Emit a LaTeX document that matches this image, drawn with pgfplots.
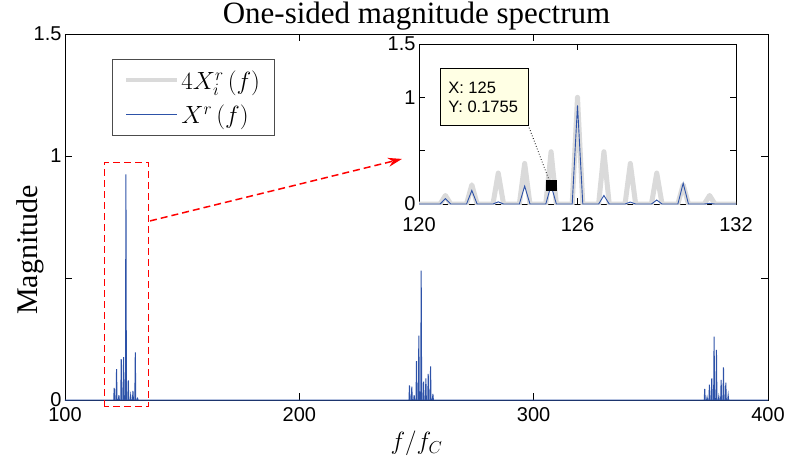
\documentclass[border=0pt]{standalone}
\usepackage{fontspec}
\setmainfont{Liberation Serif}
\setsansfont{Liberation Sans}
\usepackage{pgfplots}
\pgfplotsset{compat=1.18}
\usetikzlibrary{arrows.meta}
\definecolor{mblue}{RGB}{45,82,168}
\definecolor{mgrey}{RGB}{218,218,218}
\definecolor{tipbg}{RGB}{255,255,228}
\newcommand{\tickf}{\fontsize{20}{20}\sffamily}
\pgfplotsset{mylegline/.style={legend image code/.code={\draw[##1] (0pt,0pt) -- (51pt,0pt);}}}
\begin{document}
\begin{tikzpicture}[x=1pt,y=1pt]
\useasboundingbox (-65,-64) rectangle (722,400);
\begin{axis}[
  at={(0pt,0pt)}, anchor=south west,
  scale only axis, width=703pt, height=366pt,
  xmin=100, xmax=400, ymin=0, ymax=1.5,
  xtick={100,200,300,400}, xticklabels={100,200,300,400},
  ytick={0,0.5,1,1.5}, yticklabels={0,,1,1.5},
  tick align=inside, major tick length=7pt,
  tick style={black, line width=0.6pt},
  axis line style={line width=0.8pt},
  ticklabel style={font=\tickf},
  xticklabel style={yshift=-4pt},
  title={One-sided magnitude spectrum},
  title style={at={(axis description cs:0.5,1)}, anchor=base, yshift=5pt, font=\fontsize{31}{31}\selectfont},
  ylabel={Magnitude},
  ylabel style={at={(axis description cs:-0.0384,0.41)}, anchor=base, font=\fontsize{30}{30}\selectfont},
  xlabel={$f/f_C$},
  xlabel style={at={(axis description cs:0.5,-0.135)}, anchor=base, font=\fontsize{26}{26}\selectfont},
  legend style={at={(axis description cs:0.0669,0.9317)}, anchor=north west,
    font=\fontsize{24}{24}\selectfont, draw=black!70, line width=0.8pt,
    inner xsep=12pt, inner ysep=9pt, row sep=10pt,
    /tikz/every even column/.append style={column sep=12pt}},
  legend cell align=left,
  clip=false,
]
\addlegendimage{mgrey, line width=4pt, mylegline}
\addlegendentry{$4X_i^r\left(f\right)$}
\addplot[mblue, line width=1pt, mylegline] coordinates {
(100,0)
(120.8,0)(121,0.050)(121.2,0)
(121.8,0)(122,0.127)(122.2,0)
(122.8,0)(123,0.020)(123.2,0)
(123.8,0)(124,0.168)(124.2,0)
(124.8,0)(125,0.1755)(125.2,0)
(125.8,0)(126,0.925)(126.2,0)
(126.8,0)(127,0.080)(127.2,0)
(127.8,0)(128,0.018)(128.2,0)
(128.8,0)(129,0.037)(129.2,0)
(129.8,0)(130,0.195)(130.2,0)
(130.8,0)(131,0.006)(131.2,0)
(246.8,0)(247,0.060)(247.2,0)
(247.8,0)(248,0.055)(248.2,0)
(248.8,0)(249,0.020)(249.2,0)
(249.8,0)(250,0.159)(250.2,0)
(250.8,0)(251,0.264)(251.2,0)
(251.8,0)(252,0.530)(252.2,0)
(252.8,0)(253,0.075)(253.2,0)
(253.8,0)(254,0.089)(254.2,0)
(254.8,0)(255,0.107)(255.2,0)
(255.8,0)(256,0.138)(256.2,0)
(256.8,0)(257,0.025)(257.2,0)
(372.8,0)(373,0.046)(373.2,0)
(373.8,0)(374,0.011)(374.2,0)
(374.8,0)(375,0.063)(375.2,0)
(375.8,0)(376,0.089)(376.2,0)
(376.8,0)(377,0.260)(377.2,0)
(377.8,0)(378,0.205)(378.2,0)
(378.8,0)(379,0.014)(379.2,0)
(379.8,0)(380,0.082)(380.2,0)
(380.8,0)(381,0.134)(381.2,0)
(381.8,0)(382,0.071)(382.2,0)
(382.8,0)(383,0.019)(383.2,0)
(400,0)
};
\addlegendentry{$X^r\left(f\right)$}
\draw[red, line width=1.5pt, dash pattern=on 7pt off 4pt]
  (axis cs:116.8,-0.027) rectangle (axis cs:135.6,0.974);
\draw[red, line width=1.5pt, dash pattern=on 7pt off 4pt, -{Stealth[length=14pt,width=9pt]}]
  (axis cs:136.3,0.734) -- (axis cs:243.8,0.988);
\end{axis}
\begin{axis}[
  at={(354pt,196pt)}, anchor=south west,
  scale only axis, width=317pt, height=160pt,
  xmin=120, xmax=132, ymin=0, ymax=1.5,
  xtick={120,126,132}, xticklabels={120,126,132},
  ytick={0,0.5,1,1.5}, yticklabels={0,,1,1.5},
  tick align=inside, major tick length=6pt,
  tick style={black, line width=0.6pt},
  axis line style={line width=0.8pt},
  ticklabel style={font=\tickf},
  xticklabel style={yshift=-10pt},
  axis background/.style={fill=white},
]
\addplot[mgrey, line width=5pt, line join=round] coordinates {
(120,0)
(120.8,0)(121,0.08)(121.2,0)
(121.8,0)(122,0.18)(122.2,0)
(122.8,0)(123,0.29)(123.2,0)
(123.8,0)(124,0.38)(124.2,0)
(124.8,0)(125,0.49)(125.2,0)
(125.8,0)(126,1.00)(126.2,0)
(126.8,0)(127,0.49)(127.2,0)
(127.8,0)(128,0.38)(128.2,0)
(128.8,0)(129,0.29)(129.2,0)
(129.8,0)(130,0.18)(130.2,0)
(130.8,0)(131,0.08)(131.2,0)
(132,0)
};
\addplot[mblue, line width=0.9pt] coordinates {
(120,0)
(120.8,0)(121,0.050)(121.2,0)
(121.8,0)(122,0.127)(122.2,0)
(122.8,0)(123,0.020)(123.2,0)
(123.8,0)(124,0.168)(124.2,0)
(124.8,0)(125,0.1755)(125.2,0)
(125.8,0)(126,0.925)(126.2,0)
(126.8,0)(127,0.080)(127.2,0)
(127.8,0)(128,0.018)(128.2,0)
(128.8,0)(129,0.037)(129.2,0)
(129.8,0)(130,0.195)(130.2,0)
(130.8,0)(131,0.006)(131.2,0)
(132,0)
};
\draw[black, dotted, line width=0.8pt] (axis cs:124.13,0.74) -- (axis cs:125,0.1755);
\addplot[only marks, mark=square*, mark size=5pt, black] coordinates {(125,0.1755)};
\draw[black, line width=0.6pt, fill=tipbg] (axis cs:120.8,1.275) rectangle (axis cs:124.13,0.74);
\node[anchor=base west, font=\fontsize{16.5}{16.5}\sffamily, inner sep=0pt] at (axis cs:121.1,1.04) {X: 125};
\node[anchor=base west, font=\fontsize{16.5}{16.5}\sffamily, inner sep=0pt] at (axis cs:121.1,0.856) {Y: 0.1755};
\end{axis}
\end{tikzpicture}
\end{document}
